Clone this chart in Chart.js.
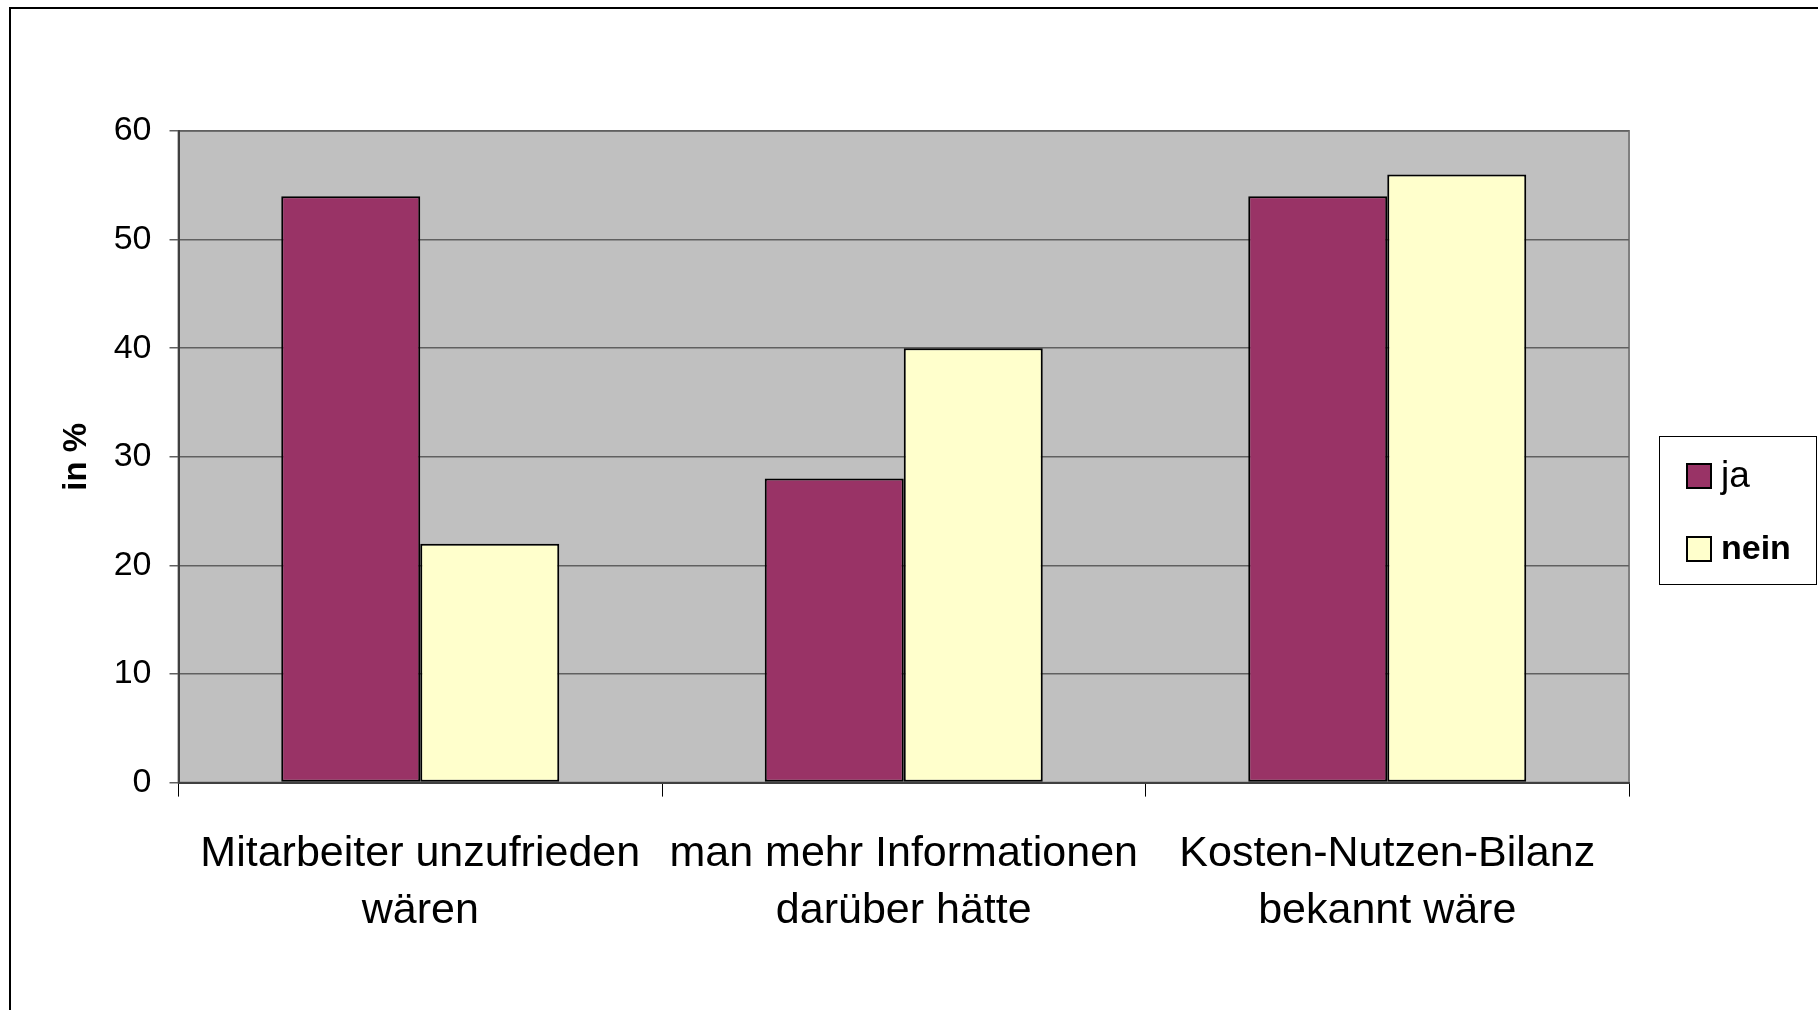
<!DOCTYPE html>
<html>
<head>
<meta charset="utf-8">
<script src="https://cdn.jsdelivr.net/npm/chart.js@4.4.1/dist/chart.umd.min.js"></script>
<style>
  html, body { margin: 0; padding: 0; background: #fff; }
  #wrap { position: absolute; left: 0; top: 0; width: 1818px; height: 1010px; }
</style>
</head>
<body>
<div id="wrap"><canvas id="chart" width="1818" height="1010"></canvas></div>
<script>
const categories = [
    ['Mitarbeiter unzufrieden', 'wären'],
    ['man mehr Informationen', 'darüber hätte'],
    ['Kosten-Nutzen-Bilanz', 'bekannt wäre']
];
const seriesNames = ['ja', 'nein'];
const jaValues = [54, 28, 54];
const neinValues = [22, 40, 56];
const yTicks = [0, 10, 20, 30, 40, 50, 60];

const FONT = "'Liberation Sans', Arial, sans-serif";

// gray plot area + outer frame
const backgroundPlugin = {
    id: 'background',
    beforeDraw(chart) {
        const ctx = chart.ctx;
        const a = chart.chartArea;
        ctx.save();
        ctx.fillStyle = '#ffffff';
        ctx.fillRect(0, 0, chart.width, chart.height);
        // frame (only top and left are inside the picture)
        ctx.strokeStyle = '#000000';
        ctx.lineWidth = 2;
        ctx.beginPath();
        ctx.moveTo(10, chart.height + 5);
        ctx.lineTo(10, 8);
        ctx.lineTo(chart.width + 5, 8);
        ctx.stroke();
        ctx.fillStyle = '#c0c0c0';
        ctx.fillRect(a.left, a.top, a.right - a.left, a.bottom - a.top);
        ctx.strokeStyle = '#808080';
        ctx.lineWidth = 2;
        ctx.strokeRect(a.left, a.top, a.right - a.left, a.bottom - a.top);
        ctx.restore();
    }
};

// boxed legend on the right, "nein" is bold in the original
const legendPlugin = {
    id: 'boxLegend',
    afterDraw(chart) {
        const ctx = chart.ctx;
        ctx.save();
        ctx.fillStyle = '#ffffff';
        ctx.fillRect(1659, 436, 157, 148);
        ctx.strokeStyle = '#000000';
        ctx.lineWidth = 1;
        ctx.strokeRect(1659.5, 436.5, 157, 148);
        const fonts = ['normal 37px ' + FONT, 'bold 34px ' + FONT];
        const rowY = [476, 549];
        chart.data.datasets.forEach((ds, i) => {
            ctx.fillStyle = ds.backgroundColor;
            ctx.fillRect(1687, rowY[i] - 12, 24, 24);
            ctx.strokeStyle = '#000000';
            ctx.lineWidth = 2;
            ctx.strokeRect(1687, rowY[i] - 12, 24, 24);
            ctx.fillStyle = '#000000';
            ctx.font = fonts[i];
            ctx.textBaseline = 'middle';
            ctx.textAlign = 'left';
            ctx.fillText(ds.label, 1721, rowY[i] + 1);
        });
        ctx.restore();
    }
};

new Chart(document.getElementById('chart'), {
    type: 'bar',
    data: {
        labels: categories,
        datasets: [
            {
                label: seriesNames[0],
                data: jaValues,
                backgroundColor: '#993366',
                borderColor: '#000000',
                borderWidth: 2,
                borderSkipped: false,
                categoryPercentage: 0.575,
                barPercentage: 1.0
            },
            {
                label: seriesNames[1],
                data: neinValues,
                backgroundColor: '#ffffcc',
                borderColor: '#000000',
                borderWidth: 2,
                borderSkipped: false,
                categoryPercentage: 0.575,
                barPercentage: 1.0
            }
        ]
    },
    options: {
        responsive: false,
        devicePixelRatio: 1,
        animation: false,
        layout: { padding: { top: 131, right: 189, left: 0, bottom: 0 } },
        plugins: {
            legend: { display: false },
            tooltip: { enabled: false }
        },
        scales: {
            x: {
                afterFit(scale) { scale.height = 1010 - 782.6; },
                grid: {
                    offset: true,
                    drawOnChartArea: false,
                    drawTicks: true,
                    tickLength: 14,
                    color: '#000000',
                    lineWidth: 1
                },
                border: { display: true, color: '#404040', width: 2 },
                ticks: {
                    color: '#000000',
                    padding: 29,
                    maxRotation: 0,
                    autoSkip: false,
                    font: { family: FONT, size: 43, lineHeight: 1.33 }
                }
            },
            y: {
                min: 0,
                max: 60,
                afterFit(scale) { scale.width = 178.5; },
                afterBuildTicks(scale) { scale.ticks = yTicks.map(v => ({ value: v })); },
                grid: {
                    color: '#606060',
                    lineWidth: 1.5,
                    drawTicks: true,
                    tickLength: 9
                },
                border: { display: true, color: '#404040', width: 2 },
                ticks: {
                    color: '#000000',
                    padding: 18,
                    font: { family: FONT, size: 34 }
                },
                title: {
                    display: true,
                    text: 'in %',
                    color: '#000000',
                    padding: { top: 57, bottom: 0 },
                    font: { family: FONT, size: 33, weight: 'bold' }
                }
            }
        }
    },
    plugins: [backgroundPlugin, legendPlugin]
});
</script>
</body>
</html>
